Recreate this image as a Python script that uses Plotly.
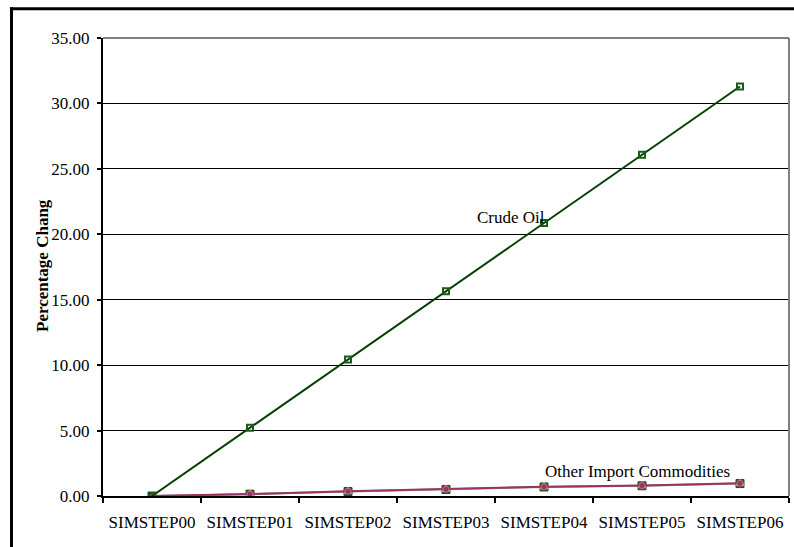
import plotly.graph_objects as go

# Simulation steps and percentage change per series
steps = ["SIMSTEP00", "SIMSTEP01", "SIMSTEP02", "SIMSTEP03",
         "SIMSTEP04", "SIMSTEP05", "SIMSTEP06"]
crude_oil = [0.00, 5.21, 10.43, 15.64, 20.86, 26.07, 31.29]
other_a = [0.00, 0.14, 0.34, 0.50, 0.69, 0.78, 0.95]
other_b = [0.00, 0.15, 0.35, 0.51, 0.70, 0.79, 0.96]
other_c = [0.00, 0.15, 0.36, 0.51, 0.71, 0.80, 0.97]

y_ticks = [0, 5, 10, 15, 20, 25, 30, 35]

SERIF = "'Liberation Serif', 'Times New Roman', serif"
FS = 17

fig = go.Figure()

fig.add_trace(go.Scatter(
    x=steps, y=other_a, mode="lines+markers",
    line=dict(color="#808080", width=2),
    marker=dict(symbol="square", size=8, color="#2e6b2e",
                line=dict(color="#1e4a1e", width=1)),
    showlegend=False, hoverinfo="skip"))
fig.add_trace(go.Scatter(
    x=steps, y=other_b, mode="lines+markers",
    line=dict(color="#c8c850", width=1),
    marker=dict(symbol="triangle-up", size=8, color="#f0e060",
                line=dict(color="#c0a030", width=1)),
    showlegend=False, hoverinfo="skip"))
fig.add_trace(go.Scatter(
    x=steps, y=other_c, mode="lines+markers",
    line=dict(color="#993366", width=2),
    marker=dict(symbol="circle", size=6, color="#993366",
                line=dict(color="#cc6699", width=1)),
    showlegend=False, hoverinfo="skip"))
fig.add_trace(go.Scatter(
    x=steps, y=crude_oil, mode="lines+markers",
    line=dict(color="#004000", width=2),
    marker=dict(symbol="square-open", size=6, color="#1a5a1a",
                line=dict(color="#003000", width=2)),
    showlegend=False, hoverinfo="skip"))

# Plot area: x 103..789, y 38..496 in a 794x547 page
L, R, T, B = 103, 5, 38, 51
W, H = 794, 547
pw, ph = W - L - R, H - T - B

def px_x(px):
    return (px - L) / pw

def px_y(py):
    return (H - B - py) / ph

shapes = [
    # gray plot border, top and right
    dict(type="line", xref="paper", yref="paper", x0=0, x1=1, y0=1, y1=1,
         line=dict(color="#808080", width=2), layer="above"),
    dict(type="line", xref="paper", yref="paper", x0=1, x1=1, y0=0, y1=1,
         line=dict(color="#808080", width=2), layer="above"),
    # outer chart frame (top and left)
    dict(type="line", xref="paper", yref="paper",
         x0=px_x(10), x1=px_x(794), y0=px_y(8.7), y1=px_y(8.7),
         line=dict(color="black", width=3)),
    dict(type="line", xref="paper", yref="paper",
         x0=px_x(11.5), x1=px_x(11.5), y0=px_y(7.3), y1=px_y(560),
         line=dict(color="black", width=3)),
]

annotations = [
    dict(text="Crude Oil", x="SIMSTEP04", y=21.3, xref="x", yref="y",
         xanchor="right", yanchor="middle", xshift=3, showarrow=False,
         font=dict(family=SERIF, size=FS, color="black")),
    dict(text="Other Import Commodities", x="SIMSTEP05", y=1.9,
         xref="x", yref="y", xanchor="center", yanchor="middle",
         xshift=-5, showarrow=False,
         font=dict(family=SERIF, size=FS, color="black")),
    dict(text="<b>Percentage Chang</b>", x=px_x(42), y=px_y(266),
         xref="paper", yref="paper", textangle=-90, showarrow=False,
         xanchor="center", yanchor="middle",
         font=dict(family=SERIF, size=FS, color="black")),
]

fig.update_layout(
    width=W, height=H,
    margin=dict(l=L, r=R, t=T, b=B),
    paper_bgcolor="white", plot_bgcolor="white",
    shapes=shapes, annotations=annotations,
    showlegend=False,
    font=dict(family=SERIF, size=FS, color="black"),
)

fig.update_xaxes(
    type="category", categoryorder="array", categoryarray=steps,
    range=[-0.5, len(steps) - 0.5],
    showline=True, linecolor="black", linewidth=2,
    ticks="outside", tickson="boundaries", ticklen=5, tickwidth=2,
    tickcolor="black", showgrid=False, zeroline=False,
    tickfont=dict(family=SERIF, size=FS, color="black"),
    ticklabelstandoff=10,
)
fig.update_yaxes(
    range=[0, 35], tickvals=y_ticks, tickformat=".2f",
    showline=True, linecolor="black", linewidth=2,
    ticks="outside", ticklen=4, tickwidth=2, tickcolor="black",
    showgrid=True, gridcolor="black", gridwidth=1, zeroline=False,
    tickfont=dict(family=SERIF, size=FS, color="black"),
    ticklabelstandoff=4,
)

fig.write_html("out.html")
